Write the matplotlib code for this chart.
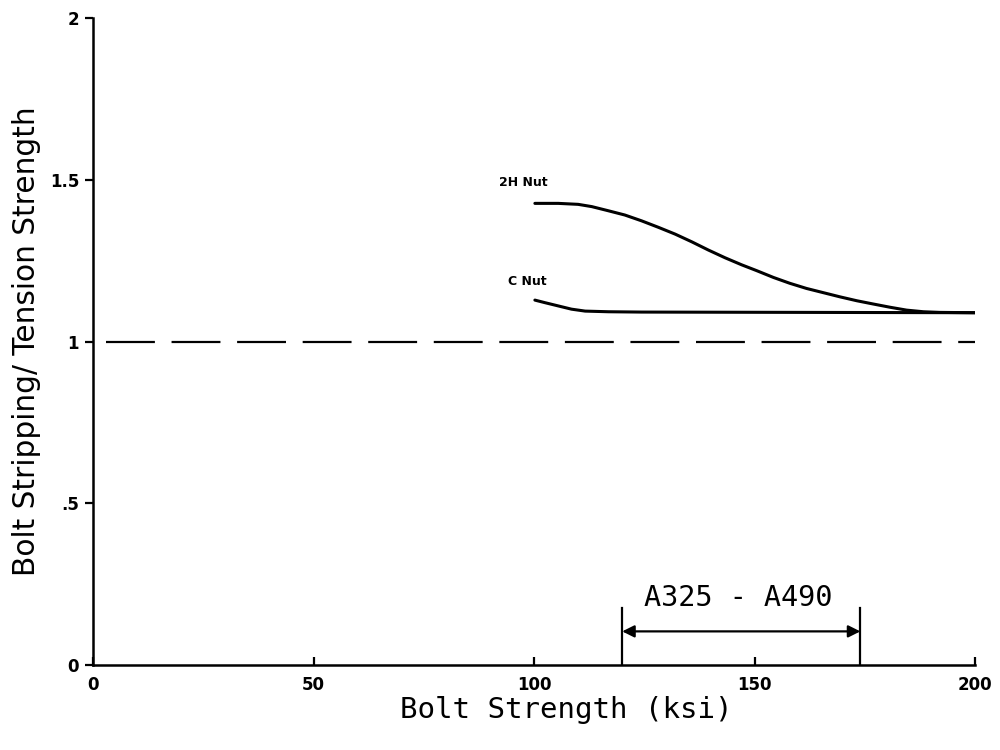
import matplotlib
matplotlib.use("Agg")
import matplotlib.pyplot as plt

# Data
x_2h = [100.2, 105.5, 110.0, 113.1, 116.9, 120.6, 124.4, 128.2, 132.0, 135.8,
        139.5, 143.3, 147.1, 150.5, 154.3, 158.0, 161.8, 165.6, 169.4, 173.2,
        176.9, 180.7, 184.5, 188.3, 192.0, 200.0]
y_2h = [1.427, 1.427, 1.424, 1.417, 1.404, 1.391, 1.373, 1.353, 1.332, 1.308,
        1.283, 1.259, 1.237, 1.219, 1.198, 1.180, 1.164, 1.151, 1.138, 1.126,
        1.116, 1.106, 1.097, 1.092, 1.090, 1.089]

x_c = [100.2, 102.5, 105.5, 108.5, 111.6, 116.9, 124.4, 200.0]
y_c = [1.128, 1.120, 1.110, 1.100, 1.094, 1.092, 1.091, 1.089]

ref_x = [3, 200]
ref_y = [1.0, 1.0]

range_lo, range_hi = 120, 174
range_label = "A325 - A490"

x_ticks = [0, 50, 100, 150, 200]
x_ticklabels = ["0", "50", "100", "150", "200"]
y_ticks = [0, 0.5, 1, 1.5, 2]
y_ticklabels = ["0", ".5", "1", "1.5", "2"]

fig = plt.figure(figsize=(10, 7.5), dpi=100)
ax = fig.add_axes([0.093, 0.1133, 0.882, 0.8627])

ax.plot(x_2h, y_2h, color="black", lw=2.2, solid_capstyle="round", solid_joinstyle="round")
ax.plot(x_c, y_c, color="black", lw=2.2, solid_capstyle="round", solid_joinstyle="round")
ax.plot(ref_x, ref_y, color="black", lw=1.6, dashes=(22, 7.5))

ax.text(97.5, 1.49, "2H Nut", fontsize=9, fontweight="bold", ha="center", va="center")
ax.text(98.5, 1.187, "C Nut", fontsize=9, fontweight="bold", ha="center", va="center")

# Range annotation
ax.plot([range_lo, range_lo], [0, 0.175], color="black", lw=1.6)
ax.plot([range_hi, range_hi], [0, 0.175], color="black", lw=1.6)
ax.annotate("", xy=(range_lo, 0.104), xytext=(range_hi, 0.104),
            arrowprops=dict(arrowstyle="<|-|>", color="black", lw=1.6,
                            mutation_scale=18, shrinkA=0, shrinkB=0))
ax.text((range_lo + range_hi) / 2 - 0.8, 0.164, range_label, fontsize=20.5,
        family="DejaVu Sans Mono", ha="center", va="bottom")

ax.set_xlim(0, 200)
ax.set_ylim(0, 2)
ax.spines["top"].set_visible(False)
ax.spines["right"].set_visible(False)
for s in ("left", "bottom"):
    ax.spines[s].set_linewidth(1.8)

ax.set_xticks(x_ticks)
ax.set_xticklabels(x_ticklabels, fontsize=12, fontweight="bold")
ax.set_yticks(y_ticks)
ax.set_yticklabels(y_ticklabels, fontsize=12, fontweight="bold")
ax.tick_params(axis="x", direction="in", length=6, width=1.6, pad=8)
ax.tick_params(axis="y", direction="out", length=6, width=1.6, pad=4)

ax.set_xlabel("Bolt Strength (ksi)", fontsize=21, family="DejaVu Sans Mono")
ax.xaxis.set_label_coords(0.537, -0.048, transform=ax.transAxes)
ax.xaxis.label.set_va("top")
ax.set_ylabel("Bolt Stripping/ Tension Strength", fontsize=21.3, labelpad=6)

fig.savefig("out.png", dpi=100)
